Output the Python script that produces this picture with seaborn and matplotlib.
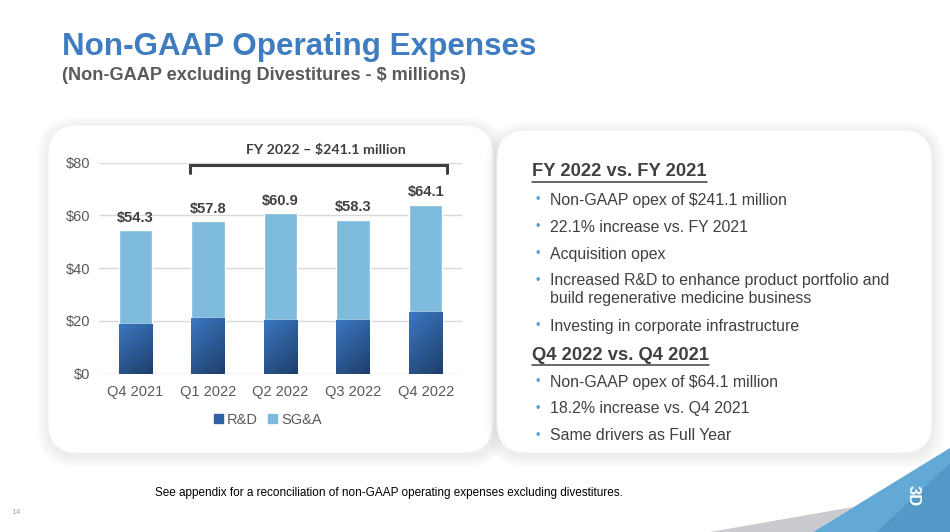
import matplotlib
matplotlib.use("Agg")
import matplotlib.pyplot as plt
import seaborn as sns
import pandas as pd
import numpy as np
from matplotlib.patches import FancyBboxPatch, Polygon, Patch

# data
quarters = ["Q4 2021", "Q1 2022", "Q2 2022", "Q3 2022", "Q4 2022"]
total_opex = [54.3, 57.8, 60.9, 58.3, 64.1]
rd_opex = [19.0, 21.2, 20.5, 20.5, 23.5]
y_ticks = [0, 20, 40, 60, 80]

bullets_fy = [
    "Non-GAAP opex of $241.1 million",
    "22.1% increase vs. FY 2021",
    "Acquisition opex",
    "Increased R&D to enhance product portfolio and",
    "Investing in corporate infrastructure",
]
bullets_q4 = [
    "Non-GAAP opex of $64.1 million",
    "18.2% increase vs. Q4 2021",
    "Same drivers as Full Year",
]

sns.set_theme(style="white")
plt.rcParams["font.family"] = ["Liberation Sans", "DejaVu Sans"]

RD_TOP = "#3B78C2"
RD_BOT = "#1E3E6A"
SGA = "#7DBADB"
DARK = "#404040"
GRAY = "#595959"

fig = plt.figure(figsize=(9.5, 5.32), dpi=100)
fig.patch.set_facecolor("white")

# background layer in pixel coords
bg = fig.add_axes([0, 0, 1, 1], zorder=0)
bg.set_xlim(0, 950)
bg.set_ylim(532, 0)
bg.axis("off")


def panel(x0, y0, x1, y1):
    # soft shadow then white rounded box
    for g in range(12, 0, -2):
        bg.add_patch(FancyBboxPatch((x0 - g + 1, y0 - g + 3), x1 - x0 + 2 * g, y1 - y0 + 2 * g,
                                    boxstyle="round,pad=0,rounding_size=%d" % (30 + g),
                                    fc="black", ec="none", alpha=0.012))
    bg.add_patch(FancyBboxPatch((x0, y0), x1 - x0, y1 - y0,
                                boxstyle="round,pad=0,rounding_size=30",
                                fc="white", ec="#F2F2F2", lw=0.8))


panel(48, 125, 493, 453)
panel(497, 130, 932, 453)

# title
bg.text(62, 47, "Non-GAAP Operating Expenses", fontsize=22.6, fontweight="bold",
        color="#3F7DC0", va="center")
bg.text(62, 76, "(Non-GAAP excluding Divestitures - $ millions)", fontsize=13.1,
        fontweight="bold", color=GRAY, va="center")

# right panel text
def heading(y, s):
    return bg.text(532, y, s, fontsize=13.2, fontweight="bold", color=DARK, va="center")

heading(172, "FY 2022 vs. FY 2021")
bg.plot([532, 707], [181.5, 181.5], color=DARK, lw=1.1)
for y, s in zip([200, 227, 254, 281, 326], bullets_fy):
    bg.text(536, y, "•", fontsize=9, color="#5B9BD5", va="center")
    bg.text(550, y, s, fontsize=11.4, color=DARK, va="center")
bg.text(550, 299, "build regenerative medicine business", fontsize=11.4, color=DARK, va="center")
heading(355, "Q4 2022 vs. Q4 2021")
bg.plot([532, 709], [364.5, 364.5], color=DARK, lw=1.1)
for y, s in zip([382, 409, 436], bullets_q4):
    bg.text(536, y, "•", fontsize=9, color="#5B9BD5", va="center")
    bg.text(550, y, s, fontsize=11.4, color=DARK, va="center")

# footnote and page number
bg.text(155, 493, "See appendix for a reconciliation of non-GAAP operating expenses excluding divestitures.",
        fontsize=8.5, color="black", va="center")
bg.text(11, 513, "14", fontsize=6, color="#A6A6A6", va="center")

# corner decoration
bg.add_patch(Polygon([(710, 532), (853, 507), (813, 532)], closed=True, fc="#C9CBCE", ec="none"))
bg.add_patch(Polygon([(813, 532), (950, 448), (950, 532)], closed=True, fc="#63A9D6", ec="none"))
bg.add_patch(Polygon([(877, 532), (950, 463), (950, 532)], closed=True, fc="#5399C8", ec="none"))
bg.text(913, 496, "3D", fontsize=12, fontweight="bold", color="white", rotation=-90,
        ha="center", va="center")

# chart
ax = fig.add_axes([99 / 950, 158.3 / 532, 363 / 950, 211 / 532], zorder=2)
ax.patch.set_alpha(0)
df = pd.DataFrame({"quarter": quarters, "total": total_opex, "rd": rd_opex})

sns.barplot(data=df, x="quarter", y="total", color=SGA, saturation=1, width=0.46, ax=ax)
n_sga = len(ax.patches)
sns.barplot(data=df, x="quarter", y="rd", color=RD_TOP, saturation=1, width=0.46, ax=ax)

# gradient fill on R&D bars
grad = np.linspace(0, 1, 64)
gx, gy = np.meshgrid(grad, grad)
mix = np.clip(0.65 * gy + 0.35 * gx, 0, 1)
c0 = np.array(matplotlib.colors.to_rgb(RD_TOP))
c1 = np.array(matplotlib.colors.to_rgb(RD_BOT))
img = c0[None, None, :] * (1 - mix[..., None]) + c1[None, None, :] * mix[..., None]
for p in ax.patches[n_sga:]:
    x0, w, h = p.get_x(), p.get_width(), p.get_height()
    im = ax.imshow(img, extent=[x0, x0 + w, 0, h], origin="upper", aspect="auto", zorder=p.get_zorder() + 0.1)
    im.set_clip_path(p)

ax.set_xlim(-0.5, 4.5)
ax.set_ylim(0, 80)
ax.set_yticks(y_ticks)
ax.set_yticklabels(["$%d" % v for v in y_ticks])
ax.yaxis.grid(True, color="#D9D9D9", lw=1)
ax.set_axisbelow(True)
for s in ax.spines.values():
    s.set_visible(False)
ax.tick_params(axis="both", length=0, labelsize=10.5, labelcolor=GRAY)
ax.tick_params(axis="x", pad=8)
ax.tick_params(axis="y", pad=6)
ax.set_xlabel("")
ax.set_ylabel("")

for i, v in enumerate(total_opex):
    ax.annotate("$%.1f" % v, (i, v), xytext=(0, 4), textcoords="offset points",
                ha="center", va="bottom", fontsize=10.5, fontweight="bold", color=DARK)

# FY 2022 bracket
ax.plot([0.76, 0.76, 4.3, 4.3], [76, 79, 79, 76], color=DARK, lw=2.2, clip_on=False,
        solid_joinstyle="miter")
ax.text(2.62, 84.7, "FY 2022 – $241.1 million", fontsize=10.3, fontweight="bold",
        color=DARK, ha="center", va="center", family=["Lato", "DejaVu Sans"])

handles = [Patch(color="#2F62A5", label="R&D"), Patch(color=SGA, label="SG&A")]
leg = ax.legend(handles=handles, loc="center", bbox_to_anchor=(268 / 950, 112 / 532),
                bbox_transform=fig.transFigure, ncol=2, frameon=False, fontsize=10.5,
                handlelength=0.6, handleheight=0.6, handletextpad=0.3, columnspacing=0.7)
for t in leg.get_texts():
    t.set_color(GRAY)

fig.savefig("out.png", dpi=100, facecolor="white")
